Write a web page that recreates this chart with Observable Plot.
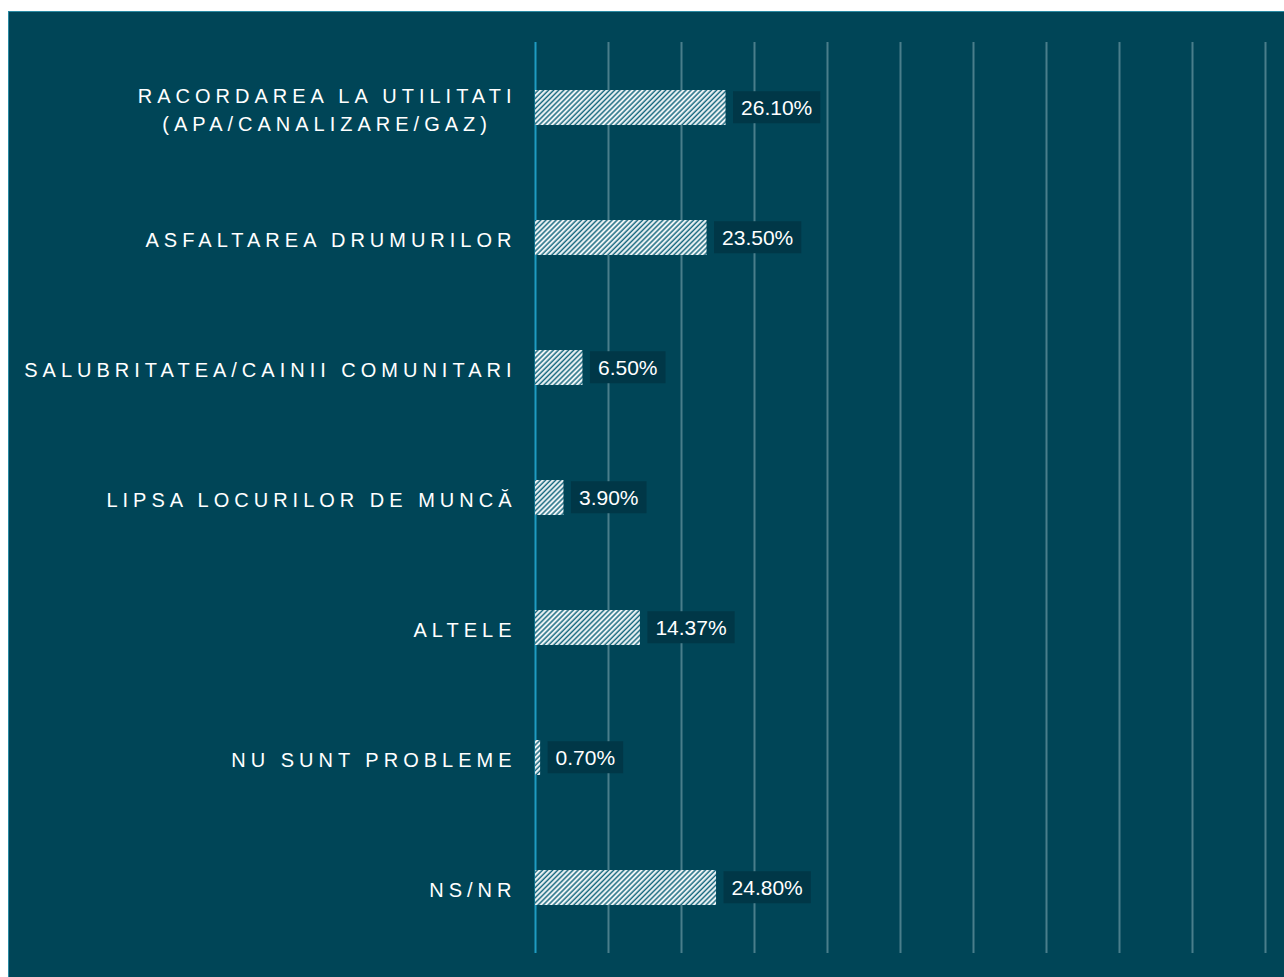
<!DOCTYPE html>
<html>
<head>
<meta charset="utf-8">
<script src="https://cdn.jsdelivr.net/npm/d3@7"></script>
<script src="https://cdn.jsdelivr.net/npm/@observablehq/plot@0.6"></script>
<style>
  html, body { margin: 0; padding: 0; background: #ffffff; overflow: hidden; }
  #frame {
    position: absolute; left: 8px; top: 11px; right: 0; bottom: 0;
    background: #004557;
    border-top: 1px solid #2a8aa3; border-left: 1px solid #2a8aa3;
  }
  #frame svg { display: block; }
</style>
</head>
<body>
<div id="frame"></div>
<script>
const categories = [
  "RACORDAREA LA UTILITATI\n(APA/CANALIZARE/GAZ)",
  "ASFALTAREA DRUMURILOR",
  "SALUBRITATEA/CAINII COMUNITARI",
  "LIPSA LOCURILOR DE MUNCĂ",
  "ALTELE",
  "NU SUNT PROBLEME",
  "NS/NR"
];
const values = [26.10, 23.50, 6.50, 3.90, 14.37, 0.70, 24.80];
const valueLabels = ["26.10%", "23.50%", "6.50%", "3.90%", "14.37%", "0.70%", "24.80%"];
const gridTicks = [10, 20, 30, 40, 50, 60, 70, 80, 90, 100];

const data = categories.map((c, i) => ({cat: c, value: values[i], label: valueLabels[i]}));

const chart = Plot.plot({
  width: 1275,
  height: 965,
  marginLeft: 526,
  marginRight: 19,
  marginTop: 30,
  marginBottom: 24,
  style: {background: "transparent", color: "white", fontFamily: "'Liberation Sans', Arial, sans-serif", fontSize: "20px"},
  x: {domain: [0, 100], axis: null},
  y: {domain: categories, axis: null, paddingInner: 0.73, paddingOuter: 0.365},
  marks: [
    Plot.gridX(gridTicks, {stroke: "#4a7e8b", strokeOpacity: 1, strokeWidth: 2}),
    Plot.ruleX([0], {stroke: "#1e9cc2", strokeWidth: 2}),
    Plot.barX(data, {x: "value", y: "cat", fill: "url(#hatch)"}),
    Plot.text(categories, {x: 0, y: d => d, text: d => d, textAnchor: "end", dx: -19, lineHeight: 1.4, fill: "white", fontSize: 20}),
    Plot.text(data, {x: "value", y: "cat", text: "label", textAnchor: "start", dx: 15, fill: "white", fontSize: 21})
  ]
});

document.getElementById("frame").appendChild(chart);

// pattern defs
const ns = "http://www.w3.org/2000/svg";
const defs = document.createElementNS(ns, "defs");
defs.innerHTML = '<pattern id="hatch" patternUnits="userSpaceOnUse" width="3.6" height="3.6" patternTransform="rotate(45)">' +
  '<rect width="3.6" height="3.6" fill="#ffffff"></rect>' +
  '<line x1="1.2" y1="0" x2="1.2" y2="3.6" stroke="#16677e" stroke-width="1.6"></line></pattern>';
chart.insertBefore(defs, chart.firstChild);

const textGroups = chart.querySelectorAll('g[aria-label="text"]');
// category labels: letter spacing, center multi-line
const labelGroup = textGroups[0];
labelGroup.setAttribute("letter-spacing", "5px");
labelGroup.querySelectorAll("text").forEach(t => {
  t.style.letterSpacing = "5px";
  const spans = t.querySelectorAll("tspan");
  if (spans.length > 1) {
    const ws = Array.from(spans).map(s => s.getComputedTextLength());
    const mx = Math.max(...ws);
    spans.forEach((s, i) => s.setAttribute("dx", -(mx - ws[i]) / 2));
  }
});
// value label boxes
const valueGroup = textGroups[1];
valueGroup.querySelectorAll("text").forEach(t => {
  const bb = t.getBBox();
  const r = document.createElementNS(ns, "rect");
  r.setAttribute("x", bb.x - 8);
  r.setAttribute("y", bb.y + bb.height / 2 - 16);
  r.setAttribute("width", bb.width + 16);
  r.setAttribute("height", 32);
  r.setAttribute("fill", "#003747");
  const tr = t.getAttribute("transform");
  if (tr) r.setAttribute("transform", tr);
  valueGroup.insertBefore(r, t);
});
</script>
</body>
</html>
